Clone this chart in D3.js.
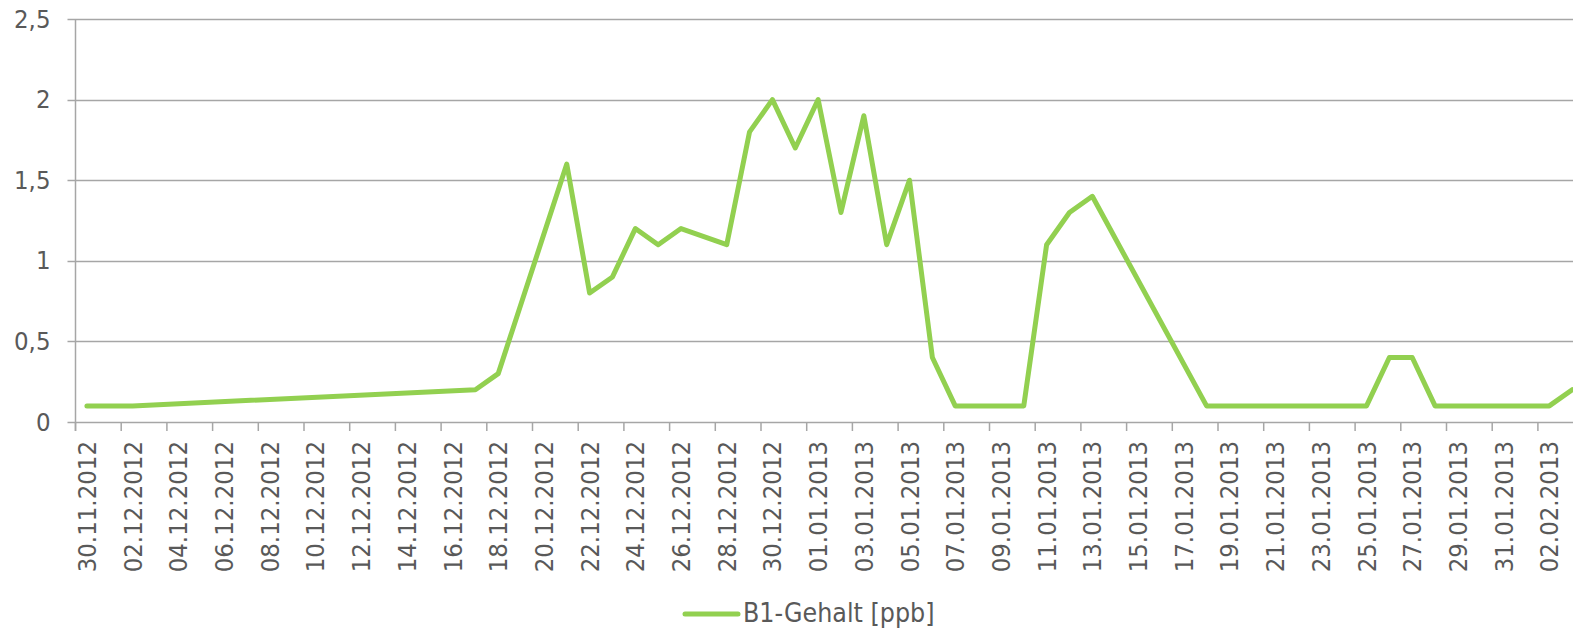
<!DOCTYPE html>
<html><head><meta charset="utf-8">
<script src="https://cdn.jsdelivr.net/npm/d3@7"></script>
<style>
html,body{margin:0;padding:0;background:#fff;overflow:hidden;}
text{font-family:"DejaVu Sans Condensed","DejaVu Sans",sans-serif;fill:#595959;}
</style></head>
<body><svg id="c" width="1573" height="628"></svg>
<script>
// ---- data ----
const seriesName = "B1-Gehalt [ppb]";
const dates = ["30.11.2012","02.12.2012","17.12.2012","18.12.2012","21.12.2012","22.12.2012","23.12.2012",
  "24.12.2012","25.12.2012","26.12.2012","28.12.2012","29.12.2012","30.12.2012","31.12.2012",
  "01.01.2013","02.01.2013","03.01.2013","04.01.2013","05.01.2013","06.01.2013","07.01.2013",
  "10.01.2013","11.01.2013","12.01.2013","13.01.2013","18.01.2013","25.01.2013","26.01.2013",
  "27.01.2013","28.01.2013","02.02.2013","03.02.2013"];
const values = [0.1,0.1,0.2,0.3,1.6,0.8,0.9,
  1.2,1.1,1.2,1.1,1.8,2.0,1.7,
  2.0,1.3,1.9,1.1,1.5,0.4,0.1,
  0.1,1.1,1.3,1.4,0.1,0.1,0.4,
  0.4,0.1,0.1,0.2];
const xTickLabels = ["30.11.2012","02.12.2012","04.12.2012","06.12.2012","08.12.2012","10.12.2012",
  "12.12.2012","14.12.2012","16.12.2012","18.12.2012","20.12.2012","22.12.2012","24.12.2012",
  "26.12.2012","28.12.2012","30.12.2012","01.01.2013","03.01.2013","05.01.2013","07.01.2013",
  "09.01.2013","11.01.2013","13.01.2013","15.01.2013","17.01.2013","19.01.2013","21.01.2013",
  "23.01.2013","25.01.2013","27.01.2013","29.01.2013","31.01.2013","02.02.2013"];
const yTicks = [0,0.5,1,1.5,2,2.5];

// ---- drawing ----
(function(){
const parse = d3.utcParse("%d.%m.%Y");
const svg = d3.select("#c");
const HALF = 12*3600*1000;
const DAY = 2*HALF;
const mLeft = 75.5, mTop = 19, mBottom = 422, pxDay = 22.85;
const start = new Date(parse("30.11.2012").getTime() - HALF);
const end = new Date(start.getTime() + 66*DAY);
const x = d3.scaleUtc().domain([start, end]).range([mLeft, mLeft + 66*pxDay]);
const y = d3.scaleLinear().domain([0, 2.5]).range([mBottom, mTop]);
const grey = "#a6a6a6";

// gridlines
svg.append("g").selectAll("line").data(yTicks).join("line")
  .attr("x1", mLeft - 8).attr("x2", 1573)
  .attr("y1", d => Math.round(y(d)) + 0.5).attr("y2", d => Math.round(y(d)) + 0.5)
  .attr("stroke", grey).attr("stroke-width", 1.5);

// y axis
const yAxis = d3.axisLeft(y).tickValues(yTicks).tickSize(0).tickPadding(0)
  .tickFormat(d => String(d).replace(".", ","));
const ya = svg.append("g").attr("transform", `translate(${mLeft},0)`).call(yAxis);
ya.select(".domain").remove();
ya.attr("font-size", null).attr("font-family", null);
ya.selectAll("text").attr("x", -25).attr("font-size", 25.5).attr("fill", "#595959");
svg.append("line").attr("x1", mLeft).attr("x2", mLeft).attr("y1", mTop).attr("y2", mBottom + 9)
  .attr("stroke", grey).attr("stroke-width", 1.5);

// x axis tick marks (boundaries)
const markDates = xTickLabels.map(s => new Date(parse(s).getTime() - HALF));
markDates.push(new Date(markDates[markDates.length-1].getTime() + 2*DAY));
svg.append("g").selectAll("line").data(markDates).join("line")
  .attr("x1", d => x(d)).attr("x2", d => x(d)).attr("y1", mBottom).attr("y2", mBottom + 9)
  .attr("stroke", grey).attr("stroke-width", 1.5);

// x labels
svg.append("g").selectAll("text").data(xTickLabels).join("text")
  .attr("transform", s => `translate(${x(parse(s)) + 9},${mBottom + 19}) rotate(-90)`)
  .attr("text-anchor", "end").attr("font-size", 25.5).text(s => s);

// line
const pts = dates.map((s, i) => ({d: parse(s), v: values[i]}));
svg.append("path").datum(pts)
  .attr("d", d3.line().x(p => x(p.d)).y(p => y(p.v)))
  .attr("fill", "none").attr("stroke", "#92d050").attr("stroke-width", 5)
  .attr("stroke-linejoin", "round").attr("stroke-linecap", "round");

// legend
svg.append("line").attr("x1", 685).attr("x2", 738).attr("y1", 614).attr("y2", 614)
  .attr("stroke", "#92d050").attr("stroke-width", 5).attr("stroke-linecap", "round");
svg.append("text").attr("x", 743).attr("y", 622).attr("font-size", 26.5).text(seriesName);
})();
</script></body></html>
